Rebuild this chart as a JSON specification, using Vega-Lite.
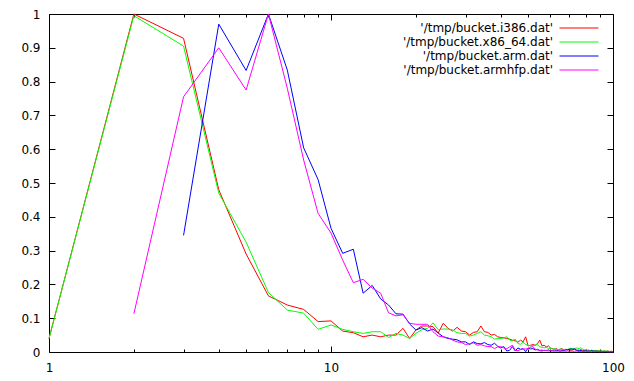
{
  "$schema": "https://vega.github.io/schema/vega-lite/v6.json",
  "width": 564,
  "height": 338,
  "autosize": {"type": "none"},
  "padding": {"left": 49, "top": 14, "right": 21, "bottom": 29},
  "background": "white",
  "config": {
    "view": {"stroke": null},
    "font": "DejaVu Sans",
    "axis": {"title": null, "grid": false, "labelFont": "DejaVu Sans", "labelFontSize": 12, "labelColor": "#000000", "domainColor": "#000000", "domainWidth": 1, "tickColor": "#000000", "tickWidth": 1}
  },
  "data": {"values": [
    {"s":"i386","x":1,"y":0.04},{"s":"i386","x":2,"y":1},{"s":"i386","x":3,"y":0.928},{"s":"i386","x":4,"y":0.48},{"s":"i386","x":5,"y":0.29},{"s":"i386","x":6,"y":0.166},{"s":"i386","x":7,"y":0.139},{"s":"i386","x":8,"y":0.126},{"s":"i386","x":9,"y":0.09},{"s":"i386","x":10,"y":0.092},
    {"s":"i386","x":11,"y":0.062},{"s":"i386","x":12,"y":0.057},{"s":"i386","x":13,"y":0.045},{"s":"i386","x":14,"y":0.05},{"s":"i386","x":15,"y":0.045},{"s":"i386","x":16,"y":0.05},{"s":"i386","x":17,"y":0.05},{"s":"i386","x":18,"y":0.07},{"s":"i386","x":19,"y":0.04},{"s":"i386","x":20,"y":0.065},
    {"s":"i386","x":21,"y":0.077},{"s":"i386","x":22,"y":0.077},{"s":"i386","x":23,"y":0.075},{"s":"i386","x":24,"y":0.056},{"s":"i386","x":25,"y":0.085},{"s":"i386","x":26,"y":0.07},{"s":"i386","x":27,"y":0.062},{"s":"i386","x":28,"y":0.073},{"s":"i386","x":29,"y":0.062},{"s":"i386","x":30,"y":0.06},
    {"s":"i386","x":31,"y":0.05},{"s":"i386","x":32,"y":0.058},{"s":"i386","x":33,"y":0.06},{"s":"i386","x":34,"y":0.077},{"s":"i386","x":35,"y":0.06},{"s":"i386","x":36,"y":0.058},{"s":"i386","x":37,"y":0.05},{"s":"i386","x":38,"y":0.052},{"s":"i386","x":39,"y":0.045},{"s":"i386","x":40,"y":0.043},
    {"s":"i386","x":41,"y":0.042},{"s":"i386","x":42,"y":0.04},{"s":"i386","x":43,"y":0.038},{"s":"i386","x":44,"y":0.035},{"s":"i386","x":45,"y":0.033},{"s":"i386","x":46,"y":0.029},{"s":"i386","x":47,"y":0.035},{"s":"i386","x":48,"y":0.03},{"s":"i386","x":49,"y":0.045},{"s":"i386","x":50,"y":0.018},
    {"s":"i386","x":51,"y":0.02},{"s":"i386","x":52,"y":0.022},{"s":"i386","x":53,"y":0.02},{"s":"i386","x":54,"y":0.025},{"s":"i386","x":55,"y":0.035},{"s":"i386","x":56,"y":0.018},{"s":"i386","x":57,"y":0.02},{"s":"i386","x":58,"y":0.015},{"s":"i386","x":59,"y":0.018},{"s":"i386","x":60,"y":0.012},
    {"s":"i386","x":61,"y":0.01},{"s":"i386","x":62,"y":0.008},{"s":"i386","x":63,"y":0.01},{"s":"i386","x":64,"y":0.006},{"s":"i386","x":65,"y":0.008},{"s":"i386","x":66,"y":0.01},{"s":"i386","x":67,"y":0.005},{"s":"i386","x":68,"y":0.008},{"s":"i386","x":69,"y":0.006},{"s":"i386","x":70,"y":0.007},
    {"s":"i386","x":71,"y":0.005},{"s":"i386","x":72,"y":0.006},{"s":"i386","x":73,"y":0.009},{"s":"i386","x":74,"y":0.004},{"s":"i386","x":75,"y":0.006},{"s":"i386","x":76,"y":0.005},{"s":"i386","x":77,"y":0.007},{"s":"i386","x":78,"y":0.004},{"s":"i386","x":79,"y":0.005},{"s":"i386","x":80,"y":0.003},
    {"s":"i386","x":81,"y":0.005},{"s":"i386","x":82,"y":0.004},{"s":"i386","x":83,"y":0.003},{"s":"i386","x":84,"y":0.005},{"s":"i386","x":85,"y":0.002},{"s":"i386","x":86,"y":0.004},{"s":"i386","x":87,"y":0.003},{"s":"i386","x":88,"y":0.003},{"s":"i386","x":89,"y":0.004},{"s":"i386","x":90,"y":0.002},
    {"s":"i386","x":91,"y":0.003},{"s":"i386","x":92,"y":0.002},{"s":"i386","x":93,"y":0.003},{"s":"i386","x":94,"y":0.002},{"s":"i386","x":95,"y":0.002},{"s":"i386","x":96,"y":0.003},{"s":"i386","x":97,"y":0.001},{"s":"i386","x":98,"y":0.002},{"s":"i386","x":99,"y":0.002},{"s":"i386","x":100,"y":0.001},

    {"s":"x86_64","x":1,"y":0.04},{"s":"x86_64","x":2,"y":0.995},{"s":"x86_64","x":3,"y":0.905},{"s":"x86_64","x":4,"y":0.47},{"s":"x86_64","x":5,"y":0.325},{"s":"x86_64","x":6,"y":0.176},{"s":"x86_64","x":7,"y":0.124},{"s":"x86_64","x":8,"y":0.115},{"s":"x86_64","x":9,"y":0.067},{"s":"x86_64","x":10,"y":0.08},
    {"s":"x86_64","x":11,"y":0.067},{"s":"x86_64","x":12,"y":0.06},{"s":"x86_64","x":13,"y":0.055},{"s":"x86_64","x":14,"y":0.06},{"s":"x86_64","x":15,"y":0.06},{"s":"x86_64","x":16,"y":0.043},{"s":"x86_64","x":17,"y":0.055},{"s":"x86_64","x":18,"y":0.05},{"s":"x86_64","x":19,"y":0.04},{"s":"x86_64","x":20,"y":0.055},
    {"s":"x86_64","x":21,"y":0.066},{"s":"x86_64","x":22,"y":0.07},{"s":"x86_64","x":23,"y":0.086},{"s":"x86_64","x":24,"y":0.066},{"s":"x86_64","x":25,"y":0.068},{"s":"x86_64","x":26,"y":0.068},{"s":"x86_64","x":27,"y":0.065},{"s":"x86_64","x":28,"y":0.057},{"s":"x86_64","x":29,"y":0.055},{"s":"x86_64","x":30,"y":0.055},
    {"s":"x86_64","x":31,"y":0.047},{"s":"x86_64","x":32,"y":0.05},{"s":"x86_64","x":33,"y":0.055},{"s":"x86_64","x":34,"y":0.06},{"s":"x86_64","x":35,"y":0.05},{"s":"x86_64","x":36,"y":0.048},{"s":"x86_64","x":37,"y":0.045},{"s":"x86_64","x":38,"y":0.038},{"s":"x86_64","x":39,"y":0.04},{"s":"x86_64","x":40,"y":0.04},
    {"s":"x86_64","x":41,"y":0.042},{"s":"x86_64","x":42,"y":0.045},{"s":"x86_64","x":43,"y":0.035},{"s":"x86_64","x":44,"y":0.033},{"s":"x86_64","x":45,"y":0.038},{"s":"x86_64","x":46,"y":0.025},{"s":"x86_64","x":47,"y":0.023},{"s":"x86_64","x":48,"y":0.03},{"s":"x86_64","x":49,"y":0.022},{"s":"x86_64","x":50,"y":0.02},
    {"s":"x86_64","x":51,"y":0.018},{"s":"x86_64","x":52,"y":0.019},{"s":"x86_64","x":53,"y":0.02},{"s":"x86_64","x":54,"y":0.023},{"s":"x86_64","x":55,"y":0.015},{"s":"x86_64","x":56,"y":0.014},{"s":"x86_64","x":57,"y":0.012},{"s":"x86_64","x":58,"y":0.014},{"s":"x86_64","x":59,"y":0.01},{"s":"x86_64","x":60,"y":0.011},
    {"s":"x86_64","x":61,"y":0.009},{"s":"x86_64","x":62,"y":0.01},{"s":"x86_64","x":63,"y":0.008},{"s":"x86_64","x":64,"y":0.007},{"s":"x86_64","x":65,"y":0.009},{"s":"x86_64","x":66,"y":0.008},{"s":"x86_64","x":67,"y":0.006},{"s":"x86_64","x":68,"y":0.008},{"s":"x86_64","x":69,"y":0.007},{"s":"x86_64","x":70,"y":0.01},
    {"s":"x86_64","x":71,"y":0.011},{"s":"x86_64","x":72,"y":0.01},{"s":"x86_64","x":73,"y":0.009},{"s":"x86_64","x":74,"y":0.012},{"s":"x86_64","x":75,"y":0.011},{"s":"x86_64","x":76,"y":0.01},{"s":"x86_64","x":77,"y":0.013},{"s":"x86_64","x":78,"y":0.008},{"s":"x86_64","x":79,"y":0.006},{"s":"x86_64","x":80,"y":0.007},
    {"s":"x86_64","x":81,"y":0.005},{"s":"x86_64","x":82,"y":0.006},{"s":"x86_64","x":83,"y":0.004},{"s":"x86_64","x":84,"y":0.005},{"s":"x86_64","x":85,"y":0.004},{"s":"x86_64","x":86,"y":0.005},{"s":"x86_64","x":87,"y":0.003},{"s":"x86_64","x":88,"y":0.004},{"s":"x86_64","x":89,"y":0.003},{"s":"x86_64","x":90,"y":0.004},
    {"s":"x86_64","x":91,"y":0.003},{"s":"x86_64","x":92,"y":0.002},{"s":"x86_64","x":93,"y":0.003},{"s":"x86_64","x":94,"y":0.002},{"s":"x86_64","x":95,"y":0.003},{"s":"x86_64","x":96,"y":0.002},{"s":"x86_64","x":97,"y":0.002},{"s":"x86_64","x":98,"y":0.001},{"s":"x86_64","x":99,"y":0.002},{"s":"x86_64","x":100,"y":0.001},

    {"s":"arm","x":3,"y":0.345},{"s":"arm","x":4,"y":0.97},{"s":"arm","x":5,"y":0.833},{"s":"arm","x":6,"y":1},{"s":"arm","x":7,"y":0.834},{"s":"arm","x":8,"y":0.604},{"s":"arm","x":9,"y":0.51},{"s":"arm","x":10,"y":0.366},
    {"s":"arm","x":11,"y":0.292},{"s":"arm","x":12,"y":0.304},{"s":"arm","x":13,"y":0.174},{"s":"arm","x":14,"y":0.197},{"s":"arm","x":15,"y":0.157},{"s":"arm","x":16,"y":0.139},{"s":"arm","x":17,"y":0.113},{"s":"arm","x":18,"y":0.112},{"s":"arm","x":19,"y":0.083},{"s":"arm","x":20,"y":0.065},
    {"s":"arm","x":21,"y":0.072},{"s":"arm","x":22,"y":0.062},{"s":"arm","x":23,"y":0.068},{"s":"arm","x":24,"y":0.056},{"s":"arm","x":25,"y":0.045},{"s":"arm","x":26,"y":0.04},{"s":"arm","x":27,"y":0.038},{"s":"arm","x":28,"y":0.036},{"s":"arm","x":29,"y":0.03},{"s":"arm","x":30,"y":0.03},
    {"s":"arm","x":31,"y":0.022},{"s":"arm","x":32,"y":0.03},{"s":"arm","x":33,"y":0.025},{"s":"arm","x":34,"y":0.024},{"s":"arm","x":35,"y":0.028},{"s":"arm","x":36,"y":0.022},{"s":"arm","x":37,"y":0.02},{"s":"arm","x":38,"y":0.026},{"s":"arm","x":39,"y":0.017},{"s":"arm","x":40,"y":0.012},
    {"s":"arm","x":41,"y":0.016},{"s":"arm","x":42,"y":0.003},{"s":"arm","x":43,"y":0.005},{"s":"arm","x":44,"y":0.016},{"s":"arm","x":45,"y":0.003},{"s":"arm","x":46,"y":0.012},{"s":"arm","x":47,"y":0.008},{"s":"arm","x":48,"y":0.01},{"s":"arm","x":49,"y":0.001},{"s":"arm","x":50,"y":0.012},
    {"s":"arm","x":51,"y":0.009},{"s":"arm","x":52,"y":0.01},{"s":"arm","x":53,"y":0.006},{"s":"arm","x":54,"y":0.008},{"s":"arm","x":55,"y":0.004},{"s":"arm","x":56,"y":0.003},{"s":"arm","x":57,"y":0.005},{"s":"arm","x":58,"y":0.004},{"s":"arm","x":59,"y":0.006},{"s":"arm","x":60,"y":0.003},
    {"s":"arm","x":61,"y":0.004},{"s":"arm","x":62,"y":0.003},{"s":"arm","x":63,"y":0.005},{"s":"arm","x":64,"y":0.004},{"s":"arm","x":65,"y":0.002},{"s":"arm","x":66,"y":0.005},{"s":"arm","x":67,"y":0.004},{"s":"arm","x":68,"y":0.006},{"s":"arm","x":69,"y":0.007},{"s":"arm","x":70,"y":0.008},
    {"s":"arm","x":71,"y":0.009},{"s":"arm","x":72,"y":0.008},{"s":"arm","x":73,"y":0.009},{"s":"arm","x":74,"y":0.006},{"s":"arm","x":75,"y":0.004},{"s":"arm","x":76,"y":0.003},{"s":"arm","x":77,"y":0.005},{"s":"arm","x":78,"y":0.002},{"s":"arm","x":79,"y":0.003},{"s":"arm","x":80,"y":0.004},
    {"s":"arm","x":81,"y":0.002},{"s":"arm","x":82,"y":0.003},{"s":"arm","x":83,"y":0.002},{"s":"arm","x":84,"y":0.004},{"s":"arm","x":85,"y":0.003},{"s":"arm","x":86,"y":0.002},{"s":"arm","x":87,"y":0.003},{"s":"arm","x":88,"y":0.002},{"s":"arm","x":89,"y":0.001},{"s":"arm","x":90,"y":0.002},
    {"s":"arm","x":91,"y":0.002},{"s":"arm","x":92,"y":0.001},{"s":"arm","x":93,"y":0.002},{"s":"arm","x":94,"y":0.001},{"s":"arm","x":95,"y":0.001},{"s":"arm","x":96,"y":0.002},{"s":"arm","x":97,"y":0.001},{"s":"arm","x":98,"y":0.001},{"s":"arm","x":99,"y":0.001},{"s":"arm","x":100,"y":0.001},

    {"s":"armhfp","x":2,"y":0.113},{"s":"armhfp","x":3,"y":0.755},{"s":"armhfp","x":4,"y":0.9},{"s":"armhfp","x":5,"y":0.775},{"s":"armhfp","x":6,"y":1},{"s":"armhfp","x":7,"y":0.78},{"s":"armhfp","x":8,"y":0.568},{"s":"armhfp","x":9,"y":0.41},{"s":"armhfp","x":10,"y":0.352},
    {"s":"armhfp","x":11,"y":0.272},{"s":"armhfp","x":12,"y":0.205},{"s":"armhfp","x":13,"y":0.215},{"s":"armhfp","x":14,"y":0.189},{"s":"armhfp","x":15,"y":0.174},{"s":"armhfp","x":16,"y":0.116},{"s":"armhfp","x":17,"y":0.107},{"s":"armhfp","x":18,"y":0.11},{"s":"armhfp","x":19,"y":0.085},{"s":"armhfp","x":20,"y":0.082},
    {"s":"armhfp","x":21,"y":0.082},{"s":"armhfp","x":22,"y":0.082},{"s":"armhfp","x":23,"y":0.06},{"s":"armhfp","x":24,"y":0.047},{"s":"armhfp","x":25,"y":0.045},{"s":"armhfp","x":26,"y":0.042},{"s":"armhfp","x":27,"y":0.035},{"s":"armhfp","x":28,"y":0.03},{"s":"armhfp","x":29,"y":0.028},{"s":"armhfp","x":30,"y":0.022},
    {"s":"armhfp","x":31,"y":0.025},{"s":"armhfp","x":32,"y":0.027},{"s":"armhfp","x":33,"y":0.02},{"s":"armhfp","x":34,"y":0.022},{"s":"armhfp","x":35,"y":0.018},{"s":"armhfp","x":36,"y":0.016},{"s":"armhfp","x":37,"y":0.016},{"s":"armhfp","x":38,"y":0.01},{"s":"armhfp","x":39,"y":0.015},{"s":"armhfp","x":40,"y":0.016},
    {"s":"armhfp","x":41,"y":0.012},{"s":"armhfp","x":42,"y":0.01},{"s":"armhfp","x":43,"y":0.015},{"s":"armhfp","x":44,"y":0.02},{"s":"armhfp","x":45,"y":0.005},{"s":"armhfp","x":46,"y":0.004},{"s":"armhfp","x":47,"y":0.007},{"s":"armhfp","x":48,"y":0.009},{"s":"armhfp","x":49,"y":0.009},{"s":"armhfp","x":50,"y":0.01},
    {"s":"armhfp","x":51,"y":0.014},{"s":"armhfp","x":52,"y":0.016},{"s":"armhfp","x":53,"y":0.008},{"s":"armhfp","x":54,"y":0.006},{"s":"armhfp","x":55,"y":0.005},{"s":"armhfp","x":56,"y":0.006},{"s":"armhfp","x":57,"y":0.004},{"s":"armhfp","x":58,"y":0.005},{"s":"armhfp","x":59,"y":0.003},{"s":"armhfp","x":60,"y":0.004},
    {"s":"armhfp","x":61,"y":0.003},{"s":"armhfp","x":62,"y":0.004},{"s":"armhfp","x":63,"y":0.002},{"s":"armhfp","x":64,"y":0.003},{"s":"armhfp","x":65,"y":0.004},{"s":"armhfp","x":66,"y":0.002},{"s":"armhfp","x":67,"y":0.003},{"s":"armhfp","x":68,"y":0.002},{"s":"armhfp","x":69,"y":0.003},{"s":"armhfp","x":70,"y":0.002},
    {"s":"armhfp","x":71,"y":0.003},{"s":"armhfp","x":72,"y":0.002},{"s":"armhfp","x":73,"y":0.002},{"s":"armhfp","x":74,"y":0.003},{"s":"armhfp","x":75,"y":0.002},{"s":"armhfp","x":76,"y":0.001},{"s":"armhfp","x":77,"y":0.002},{"s":"armhfp","x":78,"y":0.002},{"s":"armhfp","x":79,"y":0.001},{"s":"armhfp","x":80,"y":0.002},
    {"s":"armhfp","x":81,"y":0.001},{"s":"armhfp","x":82,"y":0.002},{"s":"armhfp","x":83,"y":0.001},{"s":"armhfp","x":84,"y":0.001},{"s":"armhfp","x":85,"y":0.002},{"s":"armhfp","x":86,"y":0.001},{"s":"armhfp","x":87,"y":0.001},{"s":"armhfp","x":88,"y":0.002},{"s":"armhfp","x":89,"y":0.001},{"s":"armhfp","x":90,"y":0.001},
    {"s":"armhfp","x":91,"y":0.001},{"s":"armhfp","x":92,"y":0.001},{"s":"armhfp","x":93,"y":0.001},{"s":"armhfp","x":94,"y":0.002},{"s":"armhfp","x":95,"y":0.001},{"s":"armhfp","x":96,"y":0.001},{"s":"armhfp","x":97,"y":0.001},{"s":"armhfp","x":98,"y":0.001},{"s":"armhfp","x":99,"y":0.001},{"s":"armhfp","x":100,"y":0.001}
  ]},
  "layer": [
    {
      "mark": {"type": "line", "strokeWidth": 1},
      "encoding": {
        "x": {"field": "x", "type": "quantitative", "scale": {"type": "log", "domain": [1, 100]},
          "axis": {"orient": "bottom", "values": [1, 10, 100], "format": "~g", "labelFlush": false, "offset": 8, "ticks": false, "domain": false, "grid": false}},
        "y": {"field": "y", "type": "quantitative", "scale": {"domain": [0, 1], "nice": false, "zero": false},
          "axis": {"orient": "left", "values": [0, 0.1, 0.2, 0.3, 0.4, 0.5, 0.6, 0.7, 0.8, 0.9, 1], "format": "~g", "offset": 7, "ticks": false, "domain": false, "grid": false}},
        "color": {"field": "s", "type": "nominal",
          "scale": {"domain": ["i386", "x86_64", "arm", "armhfp"], "range": ["#ff0000", "#00ff00", "#0000ff", "#ff00ff"]},
          "legend": {"orient": "none", "legendX": 523, "legendY": 7, "title": null, "padding": 0, "symbolType": "M-3,0H3", "symbolSize": 169, "symbolStrokeWidth": 1, "labelAlign": "right", "labelOffset": -33, "labelFont": "DejaVu Sans", "labelFontSize": 12, "labelColor": "#000000", "labelLimit": 0, "rowPadding": 1, "labelExpr": "\"'/tmp/bucket.\" + datum.label + \".dat'\""}}
      }
    },
    {
      "mark": {"type": "line", "strokeOpacity": 0},
      "encoding": {
        "x": {"field": "x", "type": "quantitative", "scale": {"type": "log", "domain": [1, 100]},
          "axis": {"orient": "bottom", "values": [1, 10, 100], "labels": false, "ticks": true, "tickSize": -6, "domain": true, "grid": false}},
        "y": {"field": "y", "type": "quantitative", "scale": {"domain": [0, 1], "nice": false, "zero": false},
          "axis": {"orient": "left", "values": [0, 0.1, 0.2, 0.3, 0.4, 0.5, 0.6, 0.7, 0.8, 0.9, 1], "labels": false, "ticks": true, "tickSize": -6, "domain": true, "grid": false}},
        "detail": {"field": "s"}
      }
    },
    {
      "mark": {"type": "line", "strokeOpacity": 0},
      "encoding": {
        "x": {"field": "x", "type": "quantitative", "scale": {"type": "log", "domain": [1, 100]},
          "axis": {"orient": "bottom", "values": [2, 3, 4, 5, 6, 7, 8, 9, 20, 30, 40, 50, 60, 70, 80, 90], "labels": false, "ticks": true, "tickSize": -3, "domain": false, "grid": false}},
        "y": {"field": "y", "type": "quantitative", "scale": {"domain": [0, 1], "nice": false, "zero": false},
          "axis": {"orient": "right", "values": [0, 0.1, 0.2, 0.3, 0.4, 0.5, 0.6, 0.7, 0.8, 0.9, 1], "labels": false, "ticks": true, "tickSize": -6, "domain": true, "grid": false}},
        "detail": {"field": "s"}
      }
    },
    {
      "mark": {"type": "line", "strokeOpacity": 0},
      "encoding": {
        "x": {"field": "x", "type": "quantitative", "scale": {"type": "log", "domain": [1, 100]},
          "axis": {"orient": "top", "values": [1, 10, 100], "labels": false, "ticks": true, "tickSize": -6, "domain": true, "grid": false}},
        "y": {"field": "y", "type": "quantitative", "scale": {"domain": [0, 1], "nice": false, "zero": false}, "axis": null},
        "detail": {"field": "s"}
      }
    },
    {
      "mark": {"type": "line", "strokeOpacity": 0},
      "encoding": {
        "x": {"field": "x", "type": "quantitative", "scale": {"type": "log", "domain": [1, 100]},
          "axis": {"orient": "top", "values": [2, 3, 4, 5, 6, 7, 8, 9, 20, 30, 40, 50, 60, 70, 80, 90], "labels": false, "ticks": true, "tickSize": -3, "domain": false, "grid": false}},
        "y": {"field": "y", "type": "quantitative", "scale": {"domain": [0, 1], "nice": false, "zero": false}, "axis": null},
        "detail": {"field": "s"}
      }
    }
  ],
  "resolve": {"axis": {"x": "independent", "y": "independent"}}
}
